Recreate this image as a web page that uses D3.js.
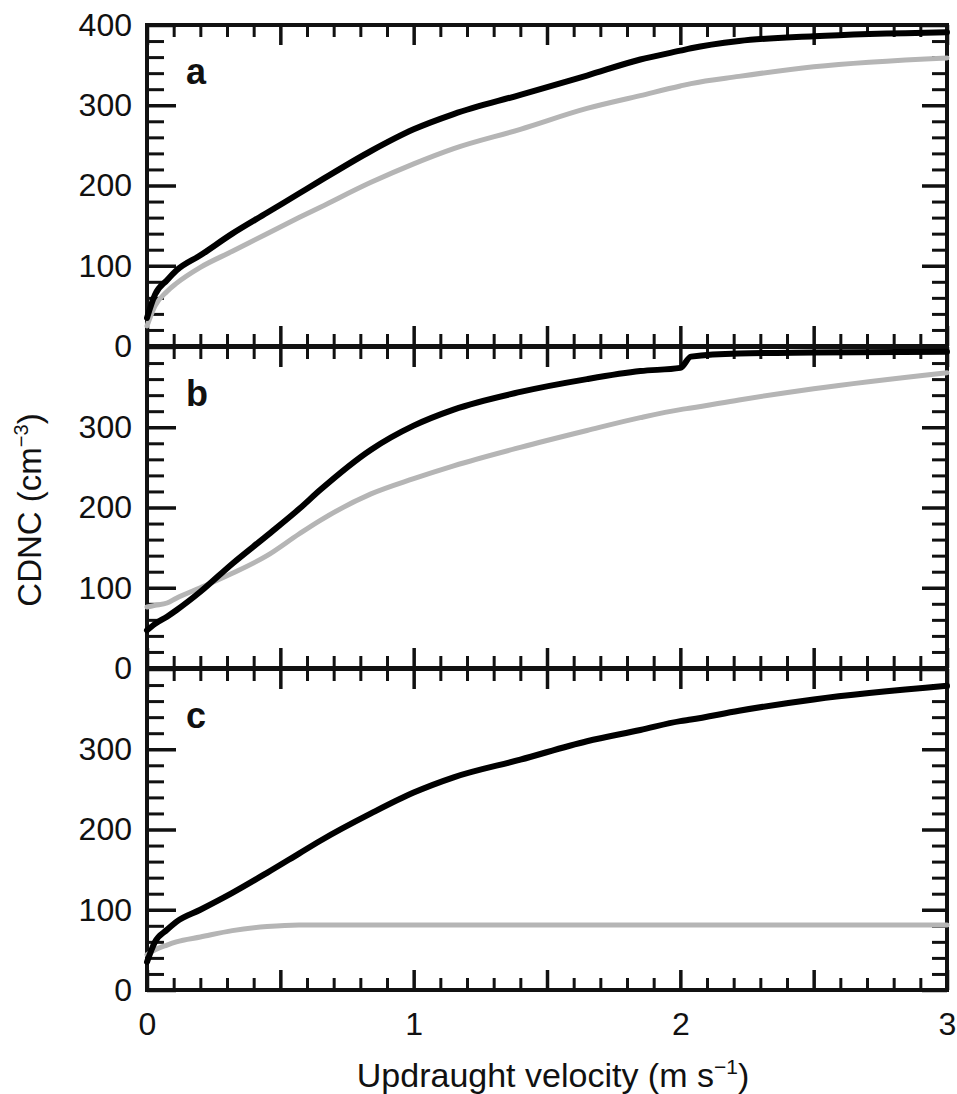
<!DOCTYPE html>
<html>
<head>
<meta charset="utf-8">
<script src="https://cdn.jsdelivr.net/npm/d3@7"></script>
<style>
  html, body { margin: 0; padding: 0; background: #fff; }
  svg { display: block; }
  text { font-family: "Liberation Sans", Arial, Helvetica, sans-serif; fill: #111; }
</style>
</head>
<body>
<svg id="chart" width="957" height="1094"></svg>
<script>
// ---- data ----
const velocity = [0, 0.03, 0.075, 0.11, 0.2, 0.32, 0.45, 0.57, 0.65, 0.84, 1.0, 1.15, 1.4, 1.65, 1.85, 2.0, 2.04, 2.22, 2.5, 3.0];

const panelLabels = ["a", "b", "c"];

const aBlack = [35, 64, 82, 94, 113, 140, 166, 190, 206, 243, 270, 289, 313, 337, 357, 368, 371, 380, 386, 391];
const aGray  = [25, 50, 68, 78, 98, 118, 140, 160, 173, 204, 227, 246, 270, 296, 312, 324, 327, 336, 348, 359];

const bBlack = [47, 55, 64, 72, 95, 130, 165, 198, 222, 272, 302, 322, 344, 360, 370, 374, 388, 392, 393, 394];
const bGray  = [76, 78, 81, 87, 100, 118, 140, 167, 184, 217, 236, 252, 275, 296, 312, 322, 324, 334, 348, 368];

const cBlack = [35, 60, 75, 85, 100, 121, 146, 170, 186, 220, 246, 265, 287, 310, 324, 335, 337, 348, 362, 379];
const cGray  = [44, 50, 56, 60, 66, 74, 79, 81, 81, 81, 81, 81, 81, 81, 81, 81, 81, 81, 81, 81];

const yTickLabelsA = [0, 100, 200, 300, 400];
const yTickLabelsBC = [0, 100, 200, 300];
const xTickLabels = [0, 1, 2, 3];
const yTitle = "CDNC (cm";
const yTitleSup = "−3";
const xTitle = "Updraught velocity (m s";
const xTitleSup = "−1";

const panels = [
  { label: panelLabels[0], black: aBlack, gray: aGray, yLabels: yTickLabelsA },
  { label: panelLabels[1], black: bBlack, gray: bGray, yLabels: yTickLabelsBC },
  { label: panelLabels[2], black: cBlack, gray: cGray, yLabels: yTickLabelsBC }
];

// ---- layout ----
const svg = d3.select("#chart");
const left = 147, right = 947;
const panelTops = [25, 347, 669];
const panelH = 321;

const x = d3.scaleLinear().domain([0, 3]).range([left, right]);

const xMajor = d3.range(0, 3.001, 0.5);
const xMinor = d3.range(0, 3.001, 0.1).filter(v => Math.abs(v * 2 - Math.round(v * 2)) > 1e-6);
const yMajor = [0, 100, 200, 300, 400];
const yMinor = d3.range(0, 401, 20).filter(v => v % 100 !== 0);

const grayColor = "#b5b5b5";

panels.forEach((p, i) => {
  const top = panelTops[i];
  const bottom = top + panelH;
  const y = d3.scaleLinear().domain([0, 400]).range([bottom, top]);
  const g = svg.append("g");

  const tickStyle = (sel, w) => {
    sel.select(".domain").remove();
    sel.selectAll(".tick line").attr("stroke", "#111").attr("stroke-width", w);
  };

  // Left axis: minor + major with labels
  g.append("g").attr("transform", `translate(${left},0)`)
    .call(d3.axisLeft(y).tickValues(yMinor).tickSizeInner(-17).tickSizeOuter(0).tickFormat(""))
    .call(s => tickStyle(s, 3));
  g.append("g").attr("transform", `translate(${left},0)`)
    .call(d3.axisLeft(y).tickValues(yMajor).tickSizeInner(-29).tickSizeOuter(0).tickPadding(15)
      .tickFormat(d => p.yLabels.includes(d) ? d : ""))
    .call(s => tickStyle(s, 3.5))
    .call(s => s.selectAll("text").attr("font-size", 32).attr("font-family", "Liberation Sans, Arial, sans-serif").attr("fill", "#111"));

  // Right axis
  g.append("g").attr("transform", `translate(${right},0)`)
    .call(d3.axisRight(y).tickValues(yMinor).tickSizeInner(-15).tickSizeOuter(0).tickFormat(""))
    .call(s => tickStyle(s, 3));
  g.append("g").attr("transform", `translate(${right},0)`)
    .call(d3.axisRight(y).tickValues(yMajor).tickSizeInner(-25).tickSizeOuter(0).tickFormat(""))
    .call(s => tickStyle(s, 3.5));

  // Top axis
  g.append("g").attr("transform", `translate(0,${top})`)
    .call(d3.axisTop(x).tickValues(xMinor).tickSizeInner(-12).tickSizeOuter(0).tickFormat(""))
    .call(s => tickStyle(s, 3));
  g.append("g").attr("transform", `translate(0,${top})`)
    .call(d3.axisTop(x).tickValues(xMajor).tickSizeInner(-20).tickSizeOuter(0).tickFormat(""))
    .call(s => tickStyle(s, 3.5));

  // Bottom axis
  g.append("g").attr("transform", `translate(0,${bottom})`)
    .call(d3.axisBottom(x).tickValues(xMinor).tickSizeInner(-12).tickSizeOuter(0).tickFormat(""))
    .call(s => tickStyle(s, 3));
  g.append("g").attr("transform", `translate(0,${bottom})`)
    .call(d3.axisBottom(x).tickValues(xMajor).tickSizeInner(-20).tickSizeOuter(0).tickPadding(22)
      .tickFormat(d => (i === 2 && xTickLabels.includes(d)) ? d : ""))
    .call(s => tickStyle(s, 3.5))
    .call(s => s.selectAll("text").attr("font-size", 32).attr("font-family", "Liberation Sans, Arial, sans-serif").attr("fill", "#111"));

  // Frame
  g.append("rect")
    .attr("x", left).attr("y", top)
    .attr("width", right - left).attr("height", bottom - top)
    .attr("fill", "none").attr("stroke", "#111").attr("stroke-width", 4);

  // Lines
  const line = d3.line()
    .x((d, k) => x(velocity[k]))
    .y(d => y(d))
    .curve(d3.curveMonotoneX);

  g.append("path").datum(p.gray)
    .attr("d", line).attr("fill", "none")
    .attr("stroke", grayColor).attr("stroke-width", 5)
    .attr("stroke-linejoin", "round").attr("stroke-linecap", "round");
  g.append("path").datum(p.black)
    .attr("d", line).attr("fill", "none")
    .attr("stroke", "#000").attr("stroke-width", 6)
    .attr("stroke-linejoin", "round").attr("stroke-linecap", "round");

  // Panel letter
  g.append("text")
    .attr("x", 186).attr("y", top + 59)
    .attr("font-size", 36).attr("font-weight", "bold")
    .text(p.label);
});

// Y title
const yt = svg.append("text")
  .attr("transform", "translate(41,510) rotate(-90)")
  .attr("text-anchor", "middle")
  .attr("font-size", 33);
yt.append("tspan").text(yTitle);
yt.append("tspan").attr("font-size", 20).attr("dy", -13).text(yTitleSup);
yt.append("tspan").attr("dy", 13).text(")");

// X title
const xt = svg.append("text")
  .attr("x", 553).attr("y", 1087)
  .attr("text-anchor", "middle")
  .attr("font-size", 34);
xt.append("tspan").text(xTitle);
xt.append("tspan").attr("font-size", 21).attr("dy", -13).text(xTitleSup);
xt.append("tspan").attr("dy", 13).text(")");
</script>
</body>
</html>
